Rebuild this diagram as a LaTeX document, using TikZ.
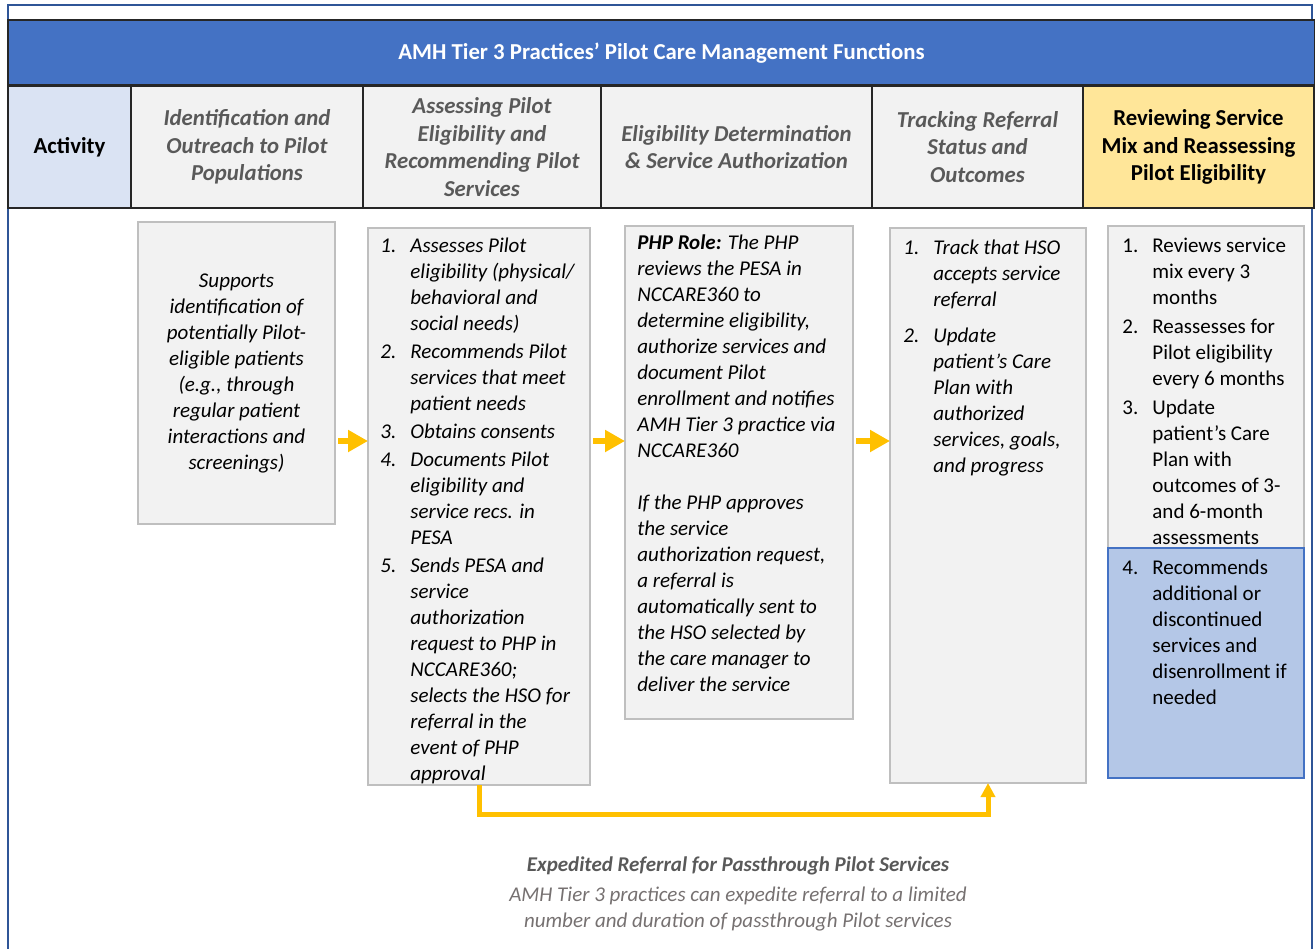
\documentclass[tikz,border=0pt]{standalone}
\usepackage{fontspec}
\setmainfont{Carlito}
\usetikzlibrary{positioning,arrows.meta}

\definecolor{TitleBlue}{HTML}{4472C4}
\definecolor{FrameBlue}{HTML}{2F5597}
\definecolor{ActBlue}{HTML}{DAE3F3}
\definecolor{PaleGray}{HTML}{F2F2F2}
\definecolor{EdgeGray}{HTML}{BFBFBF}
\definecolor{HeadText}{HTML}{595959}
\definecolor{ReviewYellow}{HTML}{FFE699}
\definecolor{RecBlue}{HTML}{B4C7E7}
\definecolor{ArrowGold}{HTML}{FFC000}
\definecolor{NoteGray}{HTML}{767171}

\newcommand{\itemno}[1]{\makebox[15pt][l]{#1}}
\newcommand{\itemcont}{\hspace*{15pt}}

\begin{document}
\begin{tikzpicture}[x=0.5pt,y=-0.5pt]
    \tikzset{node distance = 0pt}
    \tikzstyle{FrameStyle}=[draw         = FrameBlue,
                            line width   = 0.8pt]
    \tikzstyle{TitleStyle}=[draw         = black!85,
                            line width   = 0.6pt,
                            fill         = TitleBlue,
                            text         = white,
                            minimum width  = 653.5pt,
                            minimum height = 32.5pt,
                            inner sep    = 0pt,
                            outer sep    = 0pt,
                            text height  = 9.5pt,
                            text depth   = 2.5pt,
                            font         = \fontsize{11.4}{13.8}\selectfont\bfseries]
    \tikzstyle{HeadStyle}=[draw          = black!85,
                           line width    = 0.6pt,
                           fill          = PaleGray,
                           text          = HeadText,
                           minimum height = 61pt,
                           inner sep     = 0pt,
                           outer sep     = 0pt,
                           align         = center,
                           font          = \fontsize{11.4}{13.8}\selectfont\bfseries\itshape]
    \tikzstyle{BoxStyle}=[draw           = EdgeGray,
                          line width     = 1pt,
                          fill           = PaleGray,
                          inner sep      = 0pt,
                          outer sep      = 0pt,
                          anchor         = north west]
    \tikzstyle{TextStyle}=[inner sep     = 0pt,
                           align         = left,
                           anchor        = north west,
                           font          = \fontsize{10.5}{13}\selectfont\itshape]
    \tikzstyle{FlowArrow}=[draw          = ArrowGold,
                           line width    = 3.3pt,
                           shorten <=    1.5pt,
                           -{Triangle[length=10pt,width=10.5pt]}]
    \tikzstyle{ExpressArrow}=[draw       = ArrowGold,
                              line width = 2.5pt,
                              -{Triangle[length=7pt,width=7pt]}]

    \useasboundingbox (0,0) rectangle (1315,948);
    \draw[FrameStyle] (8,960) -- (8,5) -- (1312,5) -- (1312,960);

    % title band and header row
    \node[TitleStyle, anchor=north west] (title) at (8,20)
        {AMH Tier 3 Practices’ Pilot Care Management Functions};
    \node[HeadStyle, fill=ActBlue, text=black, font=\fontsize{11.4}{13.8}\selectfont\bfseries,
          minimum width=61.5pt, anchor=north west] (act) at (8,86) {Activity};
    \node[HeadStyle, minimum width=116pt, right=of act] (hident)
        {Identification and\\Outreach to Pilot\\Populations};
    \node[HeadStyle, minimum width=119pt, right=of hident] (hassess)
        {Assessing Pilot\\Eligibility and\\Recommending Pilot\\Services};
    \node[HeadStyle, minimum width=135.5pt, right=of hassess] (happrove)
        {Eligibility Determination\\\& Service Authorization};
    \node[HeadStyle, minimum width=105.5pt, right=of happrove] (htrack)
        {Tracking Referral\\Status and\\Outcomes};
    \node[HeadStyle, fill=ReviewYellow, text=black, font=\fontsize{11.4}{13.8}\selectfont\bfseries,
          minimum width=115.5pt, right=of htrack] (hreview)
        {Reviewing Service\\Mix and Reassessing\\Pilot Eligibility};

    % activity boxes
    \node[BoxStyle, minimum width=98.5pt, minimum height=151pt] (ident) at (138,222) {};
    \node[BoxStyle, minimum width=111pt, minimum height=278.5pt] (assess) at (368,228) {};
    \node[BoxStyle, minimum width=114pt, minimum height=246.5pt] (approve) at (625,226) {};
    \node[BoxStyle, minimum width=98pt, minimum height=277.5pt] (track) at (890,228) {};
    \node[BoxStyle, minimum width=98pt, minimum height=161pt] (review) at (1108,226) {};
    \node[BoxStyle, draw=TitleBlue, fill=RecBlue, minimum width=98pt, minimum height=115pt]
        (recommend) at (1108,548) {};

    \node[TextStyle, align=center, anchor=center] (identtxt) at (ident.center)
        {Supports\\identification of\\potentially Pilot-\\eligible patients\\(e.g., through\\regular patient\\interactions and\\screenings)};
    \node[TextStyle] (assesstxt) at (380,238)
        {\itemno{1.}Assesses Pilot\\\itemcont eligibility (physical/\\\itemcont behavioral and\\\itemcont social needs)\\[1pt]
         \itemno{2.}Recommends Pilot\\\itemcont services that meet\\\itemcont patient needs\\[1pt]
         \itemno{3.}Obtains consents\\[1pt]
         \itemno{4.}Documents Pilot\\\itemcont eligibility and\\\itemcont service recs. in\\\itemcont PESA\\[1pt]
         \itemno{5.}Sends PESA and\\\itemcont service\\\itemcont authorization\\\itemcont request to PHP in\\\itemcont NCCARE360;\\\itemcont selects the HSO for\\\itemcont referral in the\\\itemcont event of PHP\\\itemcont approval};
    \node[TextStyle] (approvetxt) at (637,234)
        {\textbf{PHP Role:} The PHP\\reviews the PESA in\\NCCARE360 to\\determine eligibility,\\authorize services and\\document Pilot\\enrollment and notifies\\AMH Tier 3 practice via\\NCCARE360\\[13pt]
         If the PHP approves\\the service\\authorization request,\\a referral is\\automatically sent to\\the HSO selected by\\the care manager to\\deliver the service};
    \node[TextStyle] (tracktxt) at (903,240)
        {\itemno{1.}Track that HSO\\\itemcont accepts service\\\itemcont referral\\[5pt]
         \itemno{2.}Update\\\itemcont patient’s Care\\\itemcont Plan with\\\itemcont authorized\\\itemcont services, goals,\\\itemcont and progress};
    \node[TextStyle, font=\fontsize{10.5}{13}\selectfont] (reviewtxt) at (1122,238)
        {\itemno{1.}Reviews service\\\itemcont mix every 3\\\itemcont months\\[1.5pt]
         \itemno{2.}Reassesses for\\\itemcont Pilot eligibility\\\itemcont every 6 months\\[1.5pt]
         \itemno{3.}Update\\\itemcont patient’s Care\\\itemcont Plan with\\\itemcont outcomes of 3-\\\itemcont and 6-month\\\itemcont assessments};
    \node[TextStyle, font=\fontsize{10.5}{13}\selectfont] (recommendtxt) at (1122,560)
        {\itemno{4.}Recommends\\\itemcont additional or\\\itemcont discontinued\\\itemcont services and\\\itemcont disenrollment if\\\itemcont needed};

    % flow between the functions
    \coordinate (flow) at (0,441);
    \draw[FlowArrow] (ident.east |- flow) -- (assess.west |- flow);
    \draw[FlowArrow] (assess.east |- flow) -- (approve.west |- flow);
    \draw[FlowArrow] (approve.east |- flow) -- (track.west |- flow);
    \draw[ExpressArrow] (assess.south) -- ++(0,29.5) -| (track.south);

    \node[align=center, text=NoteGray, font=\fontsize{10.5}{13}\selectfont\itshape] (note) at (738,894)
        {{\color{HeadText}\bfseries Expedited Referral for Passthrough Pilot Services}\\[2pt]
         AMH Tier 3 practices can expedite referral to a limited\\number and duration of passthrough Pilot services};
\end{tikzpicture}
\end{document}
